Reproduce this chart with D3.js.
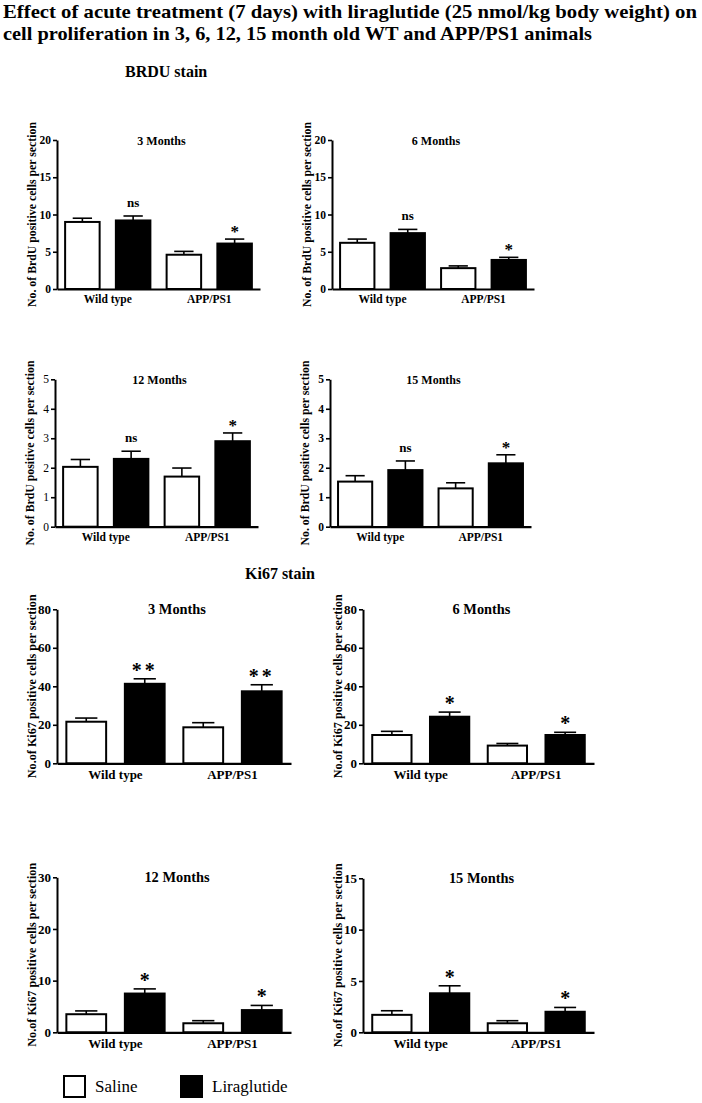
<!DOCTYPE html>
<html>
<head>
<meta charset="utf-8">
<script src="https://cdn.jsdelivr.net/npm/d3@7"></script>
<style>
  html, body { margin: 0; padding: 0; background: #fff; }
  svg { display: block; }
  text { font-family: "Liberation Serif", "Times New Roman", serif; fill: #000; }
</style>
</head>
<body>
<script>
// ---------- DATA ----------
const groups = ["Wild type", "APP/PS1"];
const treatments = ["Saline", "Liraglutide"];
const panelTitles = ["3 Months", "6 Months", "12 Months", "15 Months"];

// order of values: [WT Saline, WT Liraglutide, APP/PS1 Saline, APP/PS1 Liraglutide]
const brdu3Mean = [9.0, 9.2, 4.6, 6.1];
const brdu3Err  = [0.5, 0.6, 0.45, 0.6];
const brdu6Mean = [6.2, 7.5, 2.8, 3.9];
const brdu6Err  = [0.5, 0.5, 0.3, 0.35];
const brdu12Mean = [2.03, 2.3, 1.7, 2.9];
const brdu12Err  = [0.25, 0.26, 0.29, 0.28];
const brdu15Mean = [1.53, 1.92, 1.30, 2.15];
const brdu15Err  = [0.2, 0.31, 0.19, 0.29];

const ki3Mean = [21.6, 41.3, 18.7, 37.4];
const ki3Err  = [1.9, 2.6, 2.4, 3.4];
const ki6Mean = [14.7, 24.2, 9.2, 14.7];
const ki6Err  = [1.9, 2.4, 1.1, 1.4];
const ki12Mean = [3.5, 7.5, 1.75, 4.3];
const ki12Err  = [0.64, 0.9, 0.5, 0.9];
const ki15Mean = [1.7, 3.8, 0.88, 2.0];
const ki15Err  = [0.4, 0.73, 0.25, 0.42];

// significance labels over the Liraglutide bars [Wild type, APP/PS1]
const brduSig = ["ns", "*"];
const ki3Sig = ["**", "**"];
const kiSig = ["*", "*"];

// y-axis ticks
const ticksBrduA = [0, 5, 10, 15, 20];
const ticksBrduB = [0, 1, 2, 3, 4, 5];
const ticksKiA = [0, 20, 40, 60, 80];
const ticksKi12 = [0, 10, 20, 30];
const ticksKi15 = [0, 5, 10, 15];

const mainTitle = [
  "Effect of acute treatment (7 days) with liraglutide (25 nmol/kg body weight) on",
  "cell proliferation in 3, 6, 12, 15 month old WT and APP/PS1 animals"
];
const brduLabel = "No. of BrdU positive cells per section";
const kiLabel = "No.of Ki67 positive cells per section";

// ---------- LAYOUT ----------
const W = 702, H = 1103;
const svg = d3.select("body").append("svg").attr("width", W).attr("height", H);

// title
svg.append("text").attr("x", 3).attr("y", 18).attr("font-size", 19).attr("font-weight", "bold")
  .attr("textLength", 694).attr("lengthAdjust", "spacingAndGlyphs").text(mainTitle[0]);
svg.append("text").attr("x", 3).attr("y", 40).attr("font-size", 19).attr("font-weight", "bold")
  .attr("textLength", 589).attr("lengthAdjust", "spacingAndGlyphs").text(mainTitle[1]);

svg.append("text").attr("x", 125).attr("y", 77).attr("font-size", 16).attr("font-weight", "bold")
  .text("BRDU stain");
svg.append("text").attr("x", 245).attr("y", 579).attr("font-size", 16).attr("font-weight", "bold")
  .text("Ki67 stain");

const panels = [
  { means: brdu3Mean, errs: brdu3Err, sig: brduSig, domain: [0, 20], ticks: ticksBrduA, title: panelTitles[0], ylabel: brduLabel,
    axisX: 57, endX: 260, y0: 289, yTop: 140, fs: 11.5, tfs: 12, lfs: 11.8, afs: 17, tickW: "bold" },
  { means: brdu6Mean, errs: brdu6Err, sig: brduSig, domain: [0, 20], ticks: ticksBrduA, title: panelTitles[1], ylabel: brduLabel,
    axisX: 332, endX: 534, y0: 289, yTop: 140, fs: 11.5, tfs: 12, lfs: 11.8, afs: 17, tickW: "bold" },
  { means: brdu12Mean, errs: brdu12Err, sig: brduSig, domain: [0, 5], ticks: ticksBrduB, title: panelTitles[2], ylabel: brduLabel,
    axisX: 55, endX: 258, y0: 526.7, yTop: 379.3, fs: 11.5, tfs: 12, lfs: 11.8, afs: 17, tickW: "normal" },
  { means: brdu15Mean, errs: brdu15Err, sig: brduSig, domain: [0, 5], ticks: ticksBrduB, title: panelTitles[3], ylabel: brduLabel,
    axisX: 330, endX: 531, y0: 526.7, yTop: 379.3, fs: 11.5, tfs: 12, lfs: 11.8, afs: 17, tickW: "bold" },
  { means: ki3Mean, errs: ki3Err, sig: ki3Sig, domain: [0, 80], ticks: ticksKiA, title: panelTitles[0], ylabel: kiLabel,
    axisX: 57, endX: 291, y0: 763.3, yTop: 609.3, fs: 13, tfs: 14.4, lfs: 12.2, afs: 20, tickW: "bold" },
  { means: ki6Mean, errs: ki6Err, sig: kiSig, domain: [0, 80], ticks: ticksKiA, title: panelTitles[1], ylabel: kiLabel,
    axisX: 363, endX: 594, y0: 763.3, yTop: 609.3, fs: 13, tfs: 14.4, lfs: 12.2, afs: 20, tickW: "bold" },
  { means: ki12Mean, errs: ki12Err, sig: kiSig, domain: [0, 30], ticks: ticksKi12, title: panelTitles[2], ylabel: kiLabel,
    axisX: 57, endX: 291, y0: 1032.3, yTop: 877.3, fs: 13, tfs: 14.4, lfs: 12.2, afs: 20, tickW: "bold" },
  { means: ki15Mean, errs: ki15Err, sig: kiSig, domain: [0, 15], ticks: ticksKi15, title: panelTitles[3], ylabel: kiLabel,
    axisX: 363, endX: 594, y0: 1032.3, yTop: 878.3, fs: 13, tfs: 14.4, lfs: 12.2, afs: 20, tickW: "bold" }
];

panels.forEach(drawPanel);

function drawPanel(p) {
  const g = svg.append("g");
  const y = d3.scaleLinear().domain(p.domain).range([p.y0, p.yTop]);
  const xg = d3.scaleBand().domain(groups).range([p.axisX, p.endX]).paddingInner(0.16).paddingOuter(0.08);
  const xs = d3.scaleBand().domain(treatments).range([0, xg.bandwidth()]).paddingInner(0.32);

  const data = [];
  groups.forEach((grp, gi) => treatments.forEach((t, ti) => {
    data.push({ grp, t, mean: p.means[gi * 2 + ti], err: p.errs[gi * 2 + ti], sig: ti === 1 ? p.sig[gi] : null });
  }));

  // bars
  g.selectAll("rect.bar").data(data).join("rect")
    .attr("class", "bar")
    .attr("x", d => xg(d.grp) + xs(d.t))
    .attr("width", xs.bandwidth())
    .attr("y", d => y(d.mean))
    .attr("height", d => y(0) - y(d.mean))
    .attr("fill", d => d.t === "Saline" ? "#fff" : "#000")
    .attr("stroke", "#000")
    .attr("stroke-width", 2);

  // error bars (upper only)
  const cx = d => xg(d.grp) + xs(d.t) + xs.bandwidth() / 2;
  const capHalf = xs.bandwidth() * 0.28;
  g.selectAll("line.err").data(data).join("line")
    .attr("class", "err")
    .attr("x1", cx).attr("x2", cx)
    .attr("y1", d => y(d.mean)).attr("y2", d => y(d.mean + d.err))
    .attr("stroke", "#000").attr("stroke-width", 1.6);
  g.selectAll("line.cap").data(data).join("line")
    .attr("class", "cap")
    .attr("x1", d => cx(d) - capHalf).attr("x2", d => cx(d) + capHalf)
    .attr("y1", d => y(d.mean + d.err)).attr("y2", d => y(d.mean + d.err))
    .attr("stroke", "#000").attr("stroke-width", 1.6);

  // significance labels
  g.selectAll("text.sig").data(data.filter(d => d.sig)).join("text")
    .attr("class", "sig")
    .attr("x", cx)
    .attr("y", d => d.sig === "ns" ? y(d.mean + d.err) - 9 : y(d.mean + d.err) - 2)
    .attr("text-anchor", "middle")
    .attr("font-size", d => d.sig === "ns" ? p.tfs + 1 : p.afs)
    .attr("font-weight", "bold")
    .attr("letter-spacing", d => d.sig === "**" ? 3 : 0)
    .text(d => d.sig);

  // y axis
  const ya = g.append("g").attr("transform", `translate(${p.axisX},0)`)
    .call(d3.axisLeft(y).tickValues(p.ticks).tickSize(4).tickSizeOuter(0).tickPadding(2).tickFormat(d3.format("d")));
  ya.select(".domain").attr("stroke", "#000").attr("stroke-width", 2);
  ya.selectAll(".tick line").attr("stroke", "#000").attr("stroke-width", 1.6);
  ya.selectAll(".tick text").attr("font-size", p.fs).attr("font-weight", p.tickW)
    .attr("font-family", "'Liberation Serif', 'Times New Roman', serif").attr("fill", "#000");

  // x axis
  const xa = g.append("g").attr("transform", `translate(0,${p.y0})`)
    .call(d3.axisBottom(xg).tickSize(0).tickSizeOuter(0).tickPadding(6));
  xa.select(".domain").attr("stroke", "#000").attr("stroke-width", 2.2);
  xa.selectAll(".tick text").attr("font-size", p.fs).attr("font-weight", "bold")
    .attr("font-family", "'Liberation Serif', 'Times New Roman', serif").attr("fill", "#000");

  // panel title
  g.append("text")
    .attr("x", (p.axisX + p.endX) / 2 + 3)
    .attr("y", p.yTop + 4.5)
    .attr("text-anchor", "middle")
    .attr("font-size", p.tfs).attr("font-weight", "bold")
    .text(p.title);

  // y label
  const ly = (p.y0 + p.yTop) / 2;
  g.append("text")
    .attr("transform", `translate(${p.axisX - 25},${ly}) rotate(-90)`)
    .attr("text-anchor", "middle")
    .attr("dominant-baseline", "central")
    .attr("font-size", p.lfs).attr("font-weight", "bold")
    .text(p.ylabel);
}

// ---------- LEGEND ----------
const legend = svg.append("g");
const legendX = d3.scaleOrdinal().domain(treatments).range([63, 180]);
legend.selectAll("rect").data(treatments).join("rect")
  .attr("x", d => legendX(d) + 1).attr("y", 1076)
  .attr("width", 21).attr("height", 21)
  .attr("fill", d => d === "Saline" ? "#fff" : "#000")
  .attr("stroke", "#000").attr("stroke-width", 2);
legend.selectAll("text").data(treatments).join("text")
  .attr("x", d => legendX(d) + 32).attr("y", 1092)
  .attr("font-size", 17)
  .text(d => d);
</script>
</body>
</html>
